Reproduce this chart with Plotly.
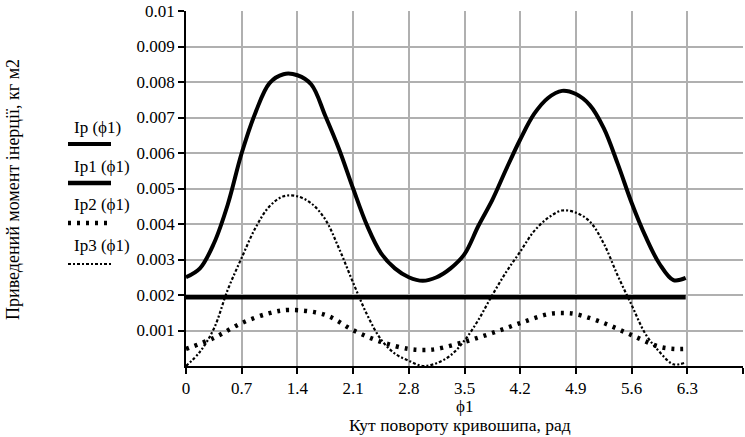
import plotly.graph_objects as go

# angle of crank rotation, rad (common grid for Ip and Ip3)
phi = [0, 0.175, 0.35, 0.525, 0.70, 0.875, 1.05, 1.225, 1.40, 1.575, 1.75,
       1.925, 2.10, 2.275, 2.45, 2.625, 2.80, 2.975, 3.15, 3.325, 3.50, 3.675,
       3.85, 4.025, 4.20, 4.375, 4.55, 4.725, 4.90, 5.075, 5.25, 5.425, 5.60,
       5.775, 5.95, 6.125, 6.28]

# reduced moments of inertia, kg m2
Ip = [0.00250, 0.00275, 0.00345, 0.00455, 0.00600, 0.00715, 0.00797, 0.00822,
      0.00819, 0.00793, 0.00705, 0.00610, 0.00500, 0.00396, 0.00318, 0.00275,
      0.00250, 0.00240, 0.00250, 0.00275, 0.00315, 0.00395, 0.00468, 0.00555,
      0.00638, 0.00710, 0.00755, 0.00775, 0.00766, 0.00735, 0.00670, 0.00570,
      0.00460, 0.00365, 0.00288, 0.00242, 0.00248]

Ip3 = [0.0, 0.00040, 0.00105, 0.00215, 0.00305, 0.00390, 0.00450, 0.00478,
       0.00478, 0.00458, 0.00413, 0.00330, 0.00235, 0.00145, 0.00075, 0.00035,
       0.00015, 0.0, 0.00008, 0.00030, 0.00072, 0.00130, 0.00200, 0.00265,
       0.00322, 0.00380, 0.00417, 0.00438, 0.00432, 0.00407, 0.00345, 0.00255,
       0.00172, 0.00090, 0.00040, 0.00005, 0.00010]

phi_1 = [0, 6.28]
Ip1 = [0.00194, 0.00194]

phi_2 = [0, 0.35, 0.7, 1.05, 1.3, 1.75, 2.1, 2.45, 2.8, 3.0, 3.15, 3.5, 3.85,
         4.2, 4.55, 4.75, 4.9, 5.25, 5.6, 5.95, 6.15, 6.28]
Ip2 = [0.00048, 0.00079, 0.00121, 0.00149, 0.00158, 0.00144, 0.00101, 0.00068,
       0.00048, 0.00045, 0.00048, 0.00068, 0.00093, 0.00121, 0.00146, 0.00149,
       0.00146, 0.00121, 0.00087, 0.00054, 0.00048, 0.00048]

x_ticks = [0, 0.7, 1.4, 2.1, 2.8, 3.5, 4.2, 4.9, 5.6, 6.3, 7.0]
x_ticktext = ["0", "0.7", "1.4", "2.1", "2.8", "3.5", "4.2", "4.9", "5.6", "6.3", "7"]
y_ticks = [0.001, 0.002, 0.003, 0.004, 0.005, 0.006, 0.007, 0.008, 0.009, 0.01]
y_ticktext = ["0.001", "0.002", "0.003", "0.004", "0.005", "0.006", "0.007",
              "0.008", "0.009", "0.01"]

names = ["Ip (ϕ1)", "Ip1 (ϕ1)", "Ip2 (ϕ1)", "Ip3 (ϕ1)"]
styles = [dict(width=4, dash="solid"),
          dict(width=4.5, dash="solid"),
          dict(width=4.5, dash="3px,6px"),
          dict(width=2.2, dash="3px,2px,2px,2px")]

FONT = "Liberation Serif"
W, H = 745, 437
L, R, T, B = 186, 2, 11, 71
PW, PH = W - L - R, H - T - B

fig = go.Figure()
for name, xs, ys, st in zip(names, [phi, phi_1, phi_2, phi],
                            [Ip, Ip1, Ip2, Ip3], styles):
    fig.add_trace(go.Scatter(x=xs, y=ys, mode="lines", name=name,
                             line=dict(color="black", shape="spline",
                                       smoothing=1.0, **st)))


def px_x(x):
    return (x - L) / PW


def px_y(y):
    return (H - B - y) / PH


annotations = []
shapes = []
leg_text_y = [127, 166, 205, 245]
leg_line_y = [144, 183, 223, 264]
for name, st, ty, ly in zip(names, styles, leg_text_y, leg_line_y):
    annotations.append(dict(text=name, xref="paper", yref="paper",
                            x=px_x(72), y=px_y(ty), xanchor="left",
                            yanchor="middle", showarrow=False,
                            font=dict(family=FONT, size=17, color="black")))
    shapes.append(dict(type="line", xref="paper", yref="paper",
                       x0=px_x(68), x1=px_x(111), y0=px_y(ly), y1=px_y(ly),
                       line=dict(color="black", width=st["width"], dash=st["dash"])))

annotations.append(dict(text="Приведений момент інерції, кг м2", xref="paper",
                        yref="paper", x=px_x(13), y=px_y(190), textangle=-90,
                        xanchor="center", yanchor="middle", showarrow=False,
                        font=dict(family=FONT, size=18, color="black")))
annotations.append(dict(text="ϕ1", xref="paper", yref="paper",
                        x=px_x(464), y=px_y(406.5), xanchor="center",
                        yanchor="middle", showarrow=False, borderpad=0,
                        font=dict(family=FONT, size=17, color="black")))
annotations.append(dict(text="Кут повороту кривошипа, рад", xref="paper",
                        yref="paper", x=px_x(460), y=px_y(425), xanchor="center",
                        yanchor="middle", showarrow=False, borderpad=0,
                        font=dict(family=FONT, size=17.5, color="black")))

axis_common = dict(showgrid=True, gridcolor="#b0b0b0", gridwidth=1.5,
                   zeroline=False, showline=True, linecolor="black",
                   linewidth=1.5, ticks="outside", ticklen=6,
                   tickcolor="black", tickwidth=1.5, automargin=False,
                   tickfont=dict(family=FONT, size=17, color="black"))

fig.update_layout(
    width=W, height=H,
    margin=dict(l=L, r=R, t=T, b=B, pad=0, autoexpand=False),
    paper_bgcolor="white", plot_bgcolor="white",
    showlegend=False,
    font=dict(family=FONT, size=17, color="black"),
    annotations=annotations, shapes=shapes,
    xaxis=dict(range=[0, 7], tickmode="array", tickvals=x_ticks,
               ticktext=x_ticktext, **axis_common),
    yaxis=dict(range=[0, 0.01], tickmode="array", tickvals=y_ticks,
               ticktext=y_ticktext, **axis_common),
)

fig.write_html("out.html", config={"displayModeBar": False},
               post_script="document.body.style.margin='0';document.body.style.padding='0';")
